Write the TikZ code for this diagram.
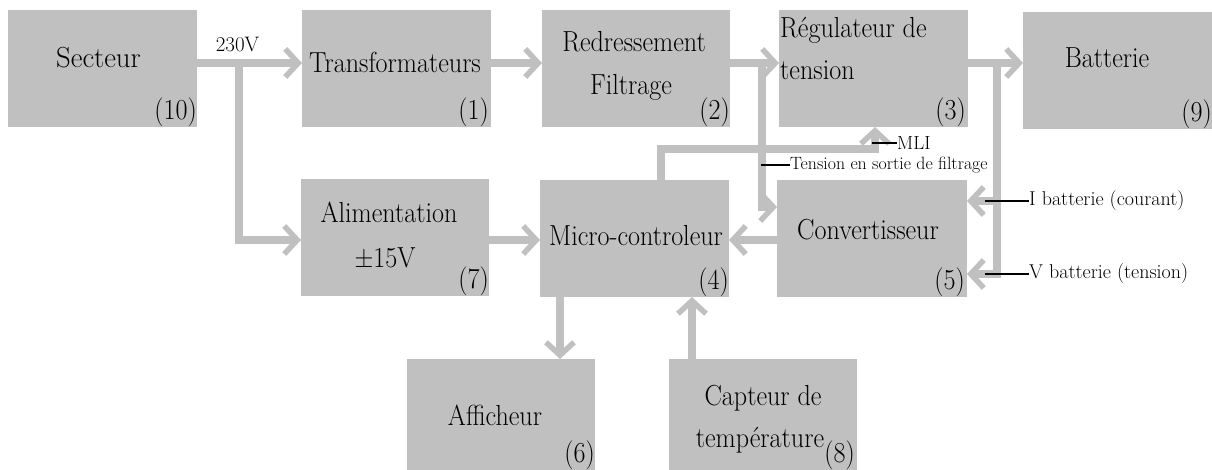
\documentclass[tikz,border=0pt]{standalone}
\usetikzlibrary{arrows.meta}
\definecolor{boxgray}{RGB}{192,192,192}
\newcommand\tb[1]{\scalebox{0.9}[1]{#1}}
\begin{document}
\begin{tikzpicture}[x=1pt,y=-1pt,
  box/.style={fill=boxgray, draw=none, minimum width=189pt, minimum height=117pt, anchor=north west, inner sep=0pt, outer sep=0pt},
  big/.style={font=\fontsize{29}{32}\selectfont, inner sep=0pt, anchor=base},
  num/.style={font=\fontsize{29}{32}\selectfont, inner sep=0pt, anchor=south east},
  small/.style={font=\fontsize{20}{22}\selectfont, inner sep=0pt, anchor=west},
  conn/.style={draw=boxgray, line width=7.5pt, -{Straight Barb[length=13pt,width=28pt,line width=5.5pt]}},
  tick/.style={draw=black, line width=1.2pt}]
\useasboundingbox (0,0) rectangle (1212,470);

% boxes
\node[box] (sect) at (8,10) {};
\node[box] (trans) at (302,10) {};
\node[box, minimum width=188pt] (redr) at (542,10) {};
\node[box] (regu) at (779,10) {};
\node[box] (batt) at (1023,12) {};
\node[box, minimum width=188pt] (alim) at (301,179) {};
\node[box] (micro) at (540,180) {};
\node[box, minimum width=190pt] (conv) at (777,180) {};
\node[box, minimum width=188pt, minimum height=111pt] (affi) at (407,359) {};
\node[box, minimum width=188pt, minimum height=111pt] (capt) at (669,359) {};

% texts
\node[big] (tSect) at (98.5,68) {\scalebox{1.1}[1]{\tb{Secteur}}};
\node[big] (tTrans) at (395,73) {\tb{Transformateurs}};
\node[big] (tRedr1) at (634,52) {\tb{Redressement}};
\node[big] (tRedr2) at (631,95) {\tb{Filtrage}};
\node[big, anchor=base west] (tRegu1) at (780,38) {\tb{Régulateur de}};
\node[big, anchor=base west] (tRegu2) at (780,80) {\tb{tension}};
\node[big] (tBatt) at (1107,68) {\tb{Batterie}};
\node[big] (tAlim1) at (389,223) {\tb{Alimentation}};
\node[big] (tAlim2) at (385,268) {\tb{±15V}};
\node[big] (tMicro) at (636,246) {\tb{Micro-controleur}};
\node[big] (tConv) at (868,240) {\tb{Convertisseur}};
\node[big] (tAffi) at (495,425) {\tb{Afficheur}};
\node[big] (tCapt1) at (763,405) {\tb{Capteur de}};
\node[big] (tCapt2) at (760,447) {\tb{température}};

% numbers
\node[num] (n10) at (sect.south east) {\tb{(10)}};
\node[num] (n1) at ([xshift=-2pt]trans.south east) {\tb{(1)}};
\node[num] (n2) at (redr.south east) {\tb{(2)}};
\node[num] (n3) at ([xshift=-2pt]regu.south east) {\tb{(3)}};
\node[num] (n9) at (batt.south east) {\tb{(9)}};
\node[num] (n7) at (alim.south east) {\tb{(7)}};
\node[num] (n4) at (micro.south east) {\tb{(4)}};
\node[num] (n5) at ([xshift=-2pt]conv.south east) {\tb{(5)}};
\node[num] (n6) at (affi.south east) {\tb{(6)}};
\node[num] (n8) at ([xshift=-2pt]capt.south east) {\tb{(8)}};

% helper coordinates
\coordinate (yA) at (0,63);
\coordinate (yAl) at (0,240);
\coordinate (j230) at (239,63);
\coordinate (xAf) at (560,0);
\coordinate (xCa) at (692,0);
\coordinate (xM1) at (661,0);
\coordinate (xM2) at (875,0);
\coordinate (yM) at (0,149);
\coordinate (xT) at (762,0);
\coordinate (yT) at (0,207);
\coordinate (xB) at (997,0);
\coordinate (yI) at (0,201);
\coordinate (yV) at (0,274);

% connectors
\draw[conn] (sect.east |- yA) -- (trans.west |- yA);
\draw[conn] (trans.east |- yA) -- (redr.west |- yA);
\draw[conn] (redr.east |- yA) -- (regu.west |- yA);
\draw[conn] (regu.east |- yA) -- (batt.west |- yA);
\draw[conn] (j230) |- (alim.west |- yAl);
\draw[conn] (alim.east |- yAl) -- (micro.west |- yAl);
\draw[conn] (conv.west |- yAl) -- (micro.east |- yAl);
\draw[conn] (micro.south -| xAf) -- (affi.north -| xAf);
\draw[conn] (capt.north -| xCa) -- (micro.south -| xCa);
\draw[conn] (micro.north -| xM1) |- (xM2 |- yM) -- (regu.south -| xM2);
\draw[conn] (xT |- yA) |- (conv.west |- yT);
\draw[conn] (xB |- yA) |- (conv.east |- yV);
\draw[conn] (xB |- yI) -- (conv.east |- yI);

% labels
\node[font=\fontsize{21}{24}\selectfont, inner sep=0pt, anchor=base] (l230) at (237.5,52) {230V};
\node[small, font=\fontsize{19}{22}\selectfont] (lMLI) at (897,143) {MLI};
\coordinate (tkM) at (872,143);
\draw[tick] (tkM) -- (lMLI.west);
\node[small, font=\fontsize{17.8}{20}\selectfont] (lTen) at (790,165) {Tension en sortie de filtrage};
\coordinate (tkT) at (761,165);
\draw[tick] (tkT) -- (lTen.west);
\node[small] (lI) at (1029,201) {I batterie (courant)};
\coordinate (tkI) at (985,201);
\draw[tick] (tkI) -- (lI.west);
\node[small] (lV) at (1029,274) {V batterie (tension)};
\coordinate (tkV) at (985,274);
\draw[tick] (tkV) -- (lV.west);
\end{tikzpicture}
\end{document}
